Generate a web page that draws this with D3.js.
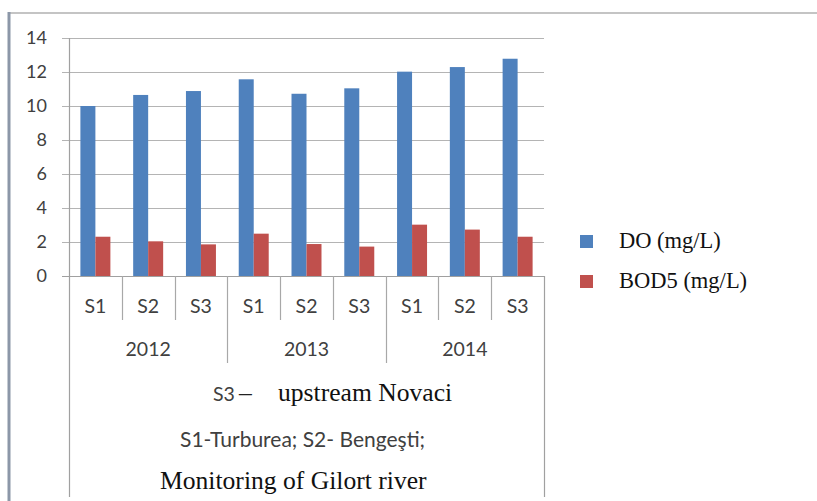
<!DOCTYPE html>
<html>
<head>
<meta charset="utf-8">
<script src="https://cdn.jsdelivr.net/npm/d3@7"></script>
<style>
  body { margin: 0; background: #fff; }
  svg { display: block; }
</style>
</head>
<body>
<div id="chart"></div>
<script>
let years = ['2012', '2013', '2014'];
let sites = ['S1', 'S2', 'S3'];
let seriesNames = ['DO (mg/L)', 'BOD5 (mg/L)'];
let doValues = [10.0, 10.65, 10.88, 11.57, 10.72, 11.04, 12.02, 12.29, 12.78];
let bodValues = [2.31, 2.04, 1.86, 2.49, 1.88, 1.73, 3.02, 2.73, 2.31];
let yTicks = [0, 2, 4, 6, 8, 10, 12, 14];
let colors = ['#4F81BD', '#C0504D'];

let w = 817;
let h = 501;
let padL = 69, padR = 544, padT = 38, padB = 276;

let cats = [];
years.forEach((y) => sites.forEach((s) => cats.push(y + '-' + s)));

let rows = cats.map((c, i) => ({cat: c, year: c.split('-')[0], site: c.split('-')[1], vals: [doValues[i], bodValues[i]]}));

let xScale = d3.scaleBand().domain(cats).range([padL, padR]);
let xInner = d3.scaleBand().domain([0, 1]).range([0, xScale.bandwidth()]).paddingOuter(0.76);
let yScale = d3.scaleLinear().domain([0, 14]).range([padB, padT]);

let calibri = 'Lato, "Open Sans", sans-serif';
let times = '"Liberation Serif", "DejaVu Serif", serif';
let gray = '#404040';

let svg = d3.select('#chart').append('svg').attr('width', w).attr('height', h);

// frame
svg.append('line').attr('x1', 9).attr('x2', w).attr('y1', 13).attr('y2', 13)
   .attr('stroke', '#c4c4c4').attr('stroke-width', 2);
svg.append('line').attr('x1', 9).attr('x2', 9).attr('y1', 12).attr('y2', h)
   .attr('stroke', '#8c97a8').attr('stroke-width', 3);

// gridlines
svg.append('g').selectAll('line').data(yTicks).enter().append('line')
   .attr('x1', 62).attr('x2', padR)
   .attr('y1', (d) => Math.round(yScale(d)) + 0.5).attr('y2', (d) => Math.round(yScale(d)) + 0.5)
   .attr('stroke', (d) => d === 0 ? '#a0a0a0' : '#b4b4b4').attr('stroke-width', 1.2);

// y axis
let yAxis = d3.axisLeft(yScale).tickValues(yTicks).tickSize(0).tickPadding(22);
let ya = svg.append('g').attr('transform', 'translate(' + padL + ',0)').call(yAxis);
ya.select('.domain').remove();
ya.selectAll('text').attr('font-family', calibri).attr('font-size', 18).attr('fill', gray);
svg.append('line').attr('x1', padL + 0.5).attr('x2', padL + 0.5).attr('y1', padT).attr('y2', 497)
   .attr('stroke', '#a0a0a0').attr('stroke-width', 1.2);
svg.append('line').attr('x1', padR + 0.5).attr('x2', padR + 0.5).attr('y1', padB).attr('y2', 497)
   .attr('stroke', '#a0a0a0').attr('stroke-width', 1.2);

// bars
let groups = svg.append('g').selectAll('g').data(rows).enter().append('g')
   .attr('transform', (d) => 'translate(' + xScale(d.cat) + ',0)');
groups.selectAll('rect').data((d) => d.vals).enter().append('rect')
   .attr('x', (d, i) => xInner(i))
   .attr('width', xInner.bandwidth())
   .attr('y', (d) => yScale(d))
   .attr('height', (d) => padB - yScale(d))
   .attr('fill', (d, i) => colors[i]);

// category separators and labels
svg.append('g').selectAll('line').data(cats.slice(1)).enter().append('line')
   .attr('x1', (d) => Math.round(xScale(d)) + 0.5).attr('x2', (d) => Math.round(xScale(d)) + 0.5)
   .attr('y1', padB).attr('y2', (d, i) => (i + 1) % 3 === 0 ? 363 : 320)
   .attr('stroke', '#a8a8a8').attr('stroke-width', 1.2);
svg.append('g').selectAll('text').data(rows).enter().append('text')
   .attr('x', (d) => xScale(d.cat) + xScale.bandwidth() / 2)
   .attr('y', 313)
   .attr('text-anchor', 'middle')
   .attr('font-family', calibri).attr('font-size', 19.5).attr('fill', gray)
   .text((d) => d.site);
svg.append('g').selectAll('text').data(years).enter().append('text')
   .attr('x', (d) => xScale(d + '-S2') + xScale.bandwidth() / 2)
   .attr('y', 356)
   .attr('text-anchor', 'middle')
   .attr('font-family', calibri).attr('font-size', 19.5).attr('fill', gray)
   .text((d) => d);

// caption lines
svg.append('text').attr('x', 213).attr('y', 401)
   .attr('font-family', calibri).attr('font-size', 19.5).attr('fill', gray)
   .text('S3');
svg.append('text').attr('x', 239).attr('y', 401)
   .attr('font-family', times).attr('font-size', 25.6).attr('fill', '#222')
   .text('\u2013');
svg.append('text').attr('x', 278).attr('y', 401)
   .attr('font-family', times).attr('font-size', 25.6).attr('fill', '#111')
   .text('upstream Novaci');
svg.append('text').attr('x', 180).attr('y', 447)
   .attr('font-family', calibri).attr('font-size', 21).attr('fill', gray)
   .text('S1-Turburea; S2- Benge\u015fti;');
svg.append('text').attr('x', 160).attr('y', 489)
   .attr('font-family', times).attr('font-size', 25.6).attr('fill', '#111')
   .text('Monitoring of Gilort river');

// legend
let legend = svg.append('g');
legend.selectAll('rect').data(seriesNames).enter().append('rect')
   .attr('x', 580).attr('y', (d, i) => 235 + i * 40)
   .attr('width', 13).attr('height', 13)
   .attr('fill', (d, i) => colors[i]);
legend.selectAll('text').data(seriesNames).enter().append('text')
   .attr('x', 619).attr('y', (d, i) => 248 + i * 40)
   .attr('font-family', times).attr('font-size', 22.5).attr('fill', '#111')
   .text((d) => d);
</script>
</body>
</html>
